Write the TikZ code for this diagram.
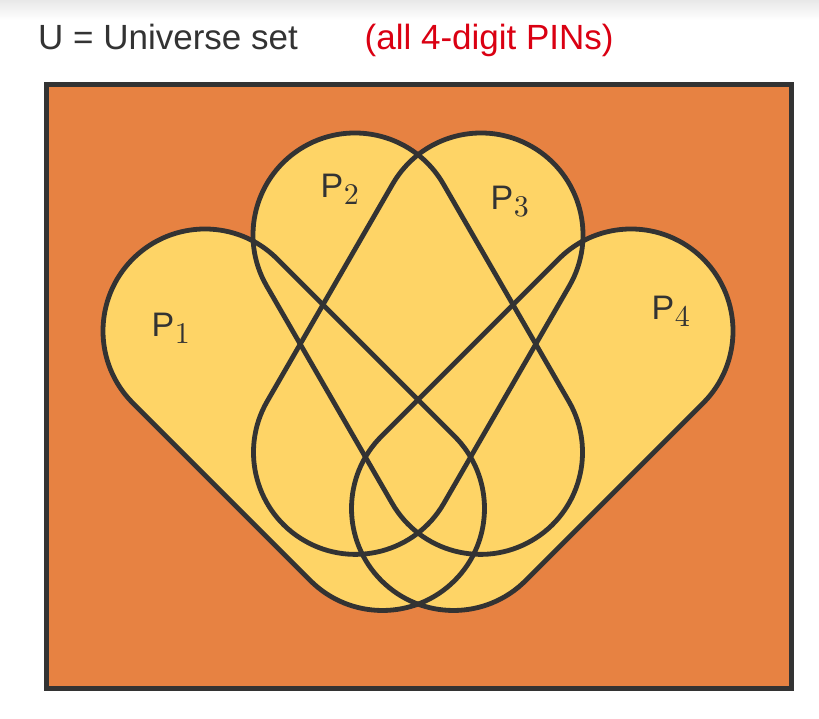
\documentclass[tikz,border=0pt]{standalone}
\usepackage{fontspec}
\usetikzlibrary{calc}
\newfontfamily\arialfont{Liberation Sans}
\newfontfamily\lmtenfont{lmroman10-regular.otf}
\definecolor{uorange}{RGB}{231,130,66}
\definecolor{pyellow}{RGB}{254,212,102}
\definecolor{inkgray}{RGB}{51,51,51}
\definecolor{pinred}{RGB}{218,0,18}
\newcommand\stadiumpath[4]{%
  \path[#4] ($(#1)+(#3+90:102)$) arc[start angle=#3+90, end angle=#3+270, radius=102]
    -- ($(#2)+(#3-90:102)$) arc[start angle=#3-90, end angle=#3+90, radius=102] -- cycle;}
\newcommand\pidx[1]{\hspace{0.5pt}\raisebox{-6.5pt}{\lmtenfont\fontsize{30}{34}\selectfont #1}}
\begin{document}
\begin{tikzpicture}[x=1pt,y=1pt,
  setfill/.style={fill=pyellow},
  setline/.style={draw=inkgray, line width=4.8pt},
  lbl/.style={inner sep=0pt, anchor=base west, text=inkgray, font=\arialfont\fontsize{34}{40}\selectfont},
  title/.style={inner sep=0pt, anchor=base west, font=\arialfont\fontsize{35}{42}\selectfont}]
\useasboundingbox (0,0) rectangle (819,719);
\shade[top color=black!9, bottom color=white] (0,719) rectangle (819,699);
% universe
\draw[draw=inkgray, line width=5pt, fill=uorange] (46.5,634.5) rectangle (791.5,30);
% centres of the rounded ends
\coordinate (A1) at (205,388);
\coordinate (B1) at ($(A1)+(-45:251)$);
\coordinate (A2) at (355,484);
\coordinate (B2) at ($(A2)+(-60:251)$);
\coordinate (A3) at (481,484);
\coordinate (B3) at ($(A3)+(-120:251)$);
\coordinate (A4) at (631,388);
\coordinate (B4) at ($(A4)+(-135:251)$);
% fills
\stadiumpath{A1}{B1}{-45}{setfill}
\stadiumpath{A2}{B2}{-60}{setfill}
\stadiumpath{A3}{B3}{-120}{setfill}
\stadiumpath{A4}{B4}{-135}{setfill}
% outlines
\stadiumpath{A1}{B1}{-45}{setline}
\stadiumpath{A2}{B2}{-60}{setline}
\stadiumpath{A3}{B3}{-120}{setline}
\stadiumpath{A4}{B4}{-135}{setline}
% labels
\node[lbl] (p1) at (151.5,382) {P\pidx{1}};
\node[lbl] (p2) at (320.5,521) {P\pidx{2}};
\node[lbl] (p3) at (490.5,509) {P\pidx{3}};
\node[lbl] (p4) at (651.5,399) {P\pidx{4}};
% title
\node[title, text=inkgray] (ttl) at (38,669) {U = Universe set};
\node[title, text=pinred] (sub) at (364.5,669) {(all 4-digit PINs)};
\end{tikzpicture}
\end{document}
